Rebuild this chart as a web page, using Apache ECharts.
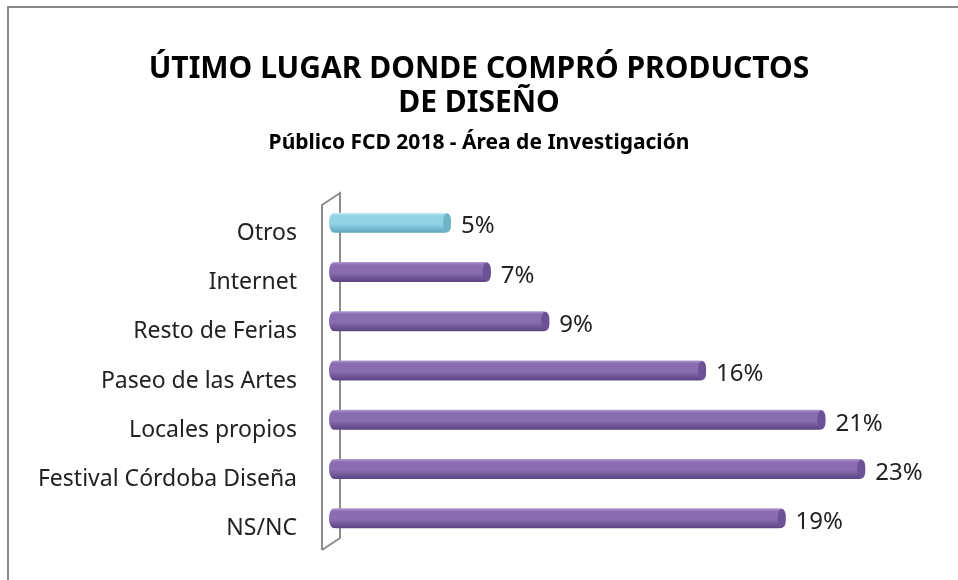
<!DOCTYPE html>
<html>
<head>
<meta charset="utf-8">
<script src="https://cdn.jsdelivr.net/npm/echarts@6/dist/echarts.min.js"></script>
<style>html,body{margin:0;padding:0;background:#fff}#c{width:958px;height:580px}</style>
</head>
<body>
<div id="c"></div>
<script>
const categories = ['NS/NC', 'Festival Córdoba Diseña', 'Locales propios', 'Paseo de las Artes', 'Resto de Ferias', 'Internet', 'Otros'];
const values = [19.3, 22.7, 21.0, 15.9, 9.2, 6.7, 5.0];
const highlight = ['Otros'];
const titleText = 'ÚTIMO LUGAR DONDE COMPRÓ PRODUCTOS\nDE DISEÑO';
const subtitleText = 'Público FCD 2018 - Área de Investigación';

const FONT = '"Noto Sans", sans-serif';
function grad(top, mid, bot) {
  return new echarts.graphic.LinearGradient(0, 0, 0, 1, [
    {offset: 0, color: top}, {offset: 0.15, color: mid}, {offset: 0.55, color: mid}, {offset: 1, color: bot}
  ]);
}
const purple = grad('#b39bd4', '#8a6db1', '#5a4380');
const cyan = grad('#d0f1fa', '#93d3e6', '#5fa6bb');
const purpleCap = '#6d5196';
const cyanCap = '#6fb3c6';

const chart = echarts.init(document.getElementById('c'));
chart.setOption({
  animation: false,
  backgroundColor: '#fff',
  title: {
    text: titleText,
    subtext: subtitleText,
    left: 'center',
    top: 47,
    itemGap: 10,
    textStyle: {fontFamily: FONT, fontWeight: 'bold', fontSize: 30, lineHeight: 34, color: '#000'},
    subtextStyle: {fontFamily: FONT, fontWeight: 'bold', fontSize: 21, lineHeight: 26, color: '#000'}
  },
  graphic: [
    {type: 'rect', z: 0, shape: {x: 8, y: 7, width: 970, height: 600}, style: {fill: 'none', stroke: '#888', lineWidth: 2}},
    {type: 'polyline', z: 0, shape: {points: [[322, 550], [322, 205], [340, 193], [340, 538], [322, 550]]}, style: {fill: 'none', stroke: '#8c8c8c', lineWidth: 2}}
  ],
  grid: {left: 334, right: 39, top: 198, bottom: 37},
  xAxis: {type: 'value', min: 0, max: 25, show: false},
  yAxis: {
    type: 'category', data: categories,
    axisLine: {show: false}, axisTick: {show: false}, splitLine: {show: false},
    axisLabel: {margin: 37, fontFamily: FONT, fontSize: 23, color: '#222', verticalAlign: 'top', lineHeight: 21}
  },
  series: [
    {
      type: 'bar', z: 3, barWidth: 20,
      data: values.map((v, i) => ({
        value: v,
        itemStyle: {color: highlight.includes(categories[i]) ? cyan : purple, borderRadius: [2, 6, 6, 2]}
      })),
      label: {
        show: true, position: 'right', distance: 10, offset: [0, 4],
        fontFamily: FONT, fontSize: 24, color: '#222',
        formatter: p => Math.round(p.value) + '%'
      }
    },
    {
      type: 'custom', z: 4,
      data: values.map((v, i) => [v, i]),
      encode: {x: 0, y: 1},
      renderItem: function (params, api) {
        const p = api.coord([api.value(0), api.value(1)]);
        const p0 = api.coord([0, api.value(1)]);
        const isHi = highlight.includes(categories[api.value(1)]);
        return {
          type: 'group',
          children: [
            {type: 'ellipse', shape: {cx: p0[0], cy: p0[1], rx: 5, ry: 10}, style: {fill: isHi ? cyan : purple}},
            {type: 'ellipse', shape: {cx: p[0] - 4, cy: p[1], rx: 4, ry: 9.5}, style: {fill: isHi ? cyanCap : purpleCap}}
          ]
        };
      }
    }
  ]
});
</script>
</body>
</html>
